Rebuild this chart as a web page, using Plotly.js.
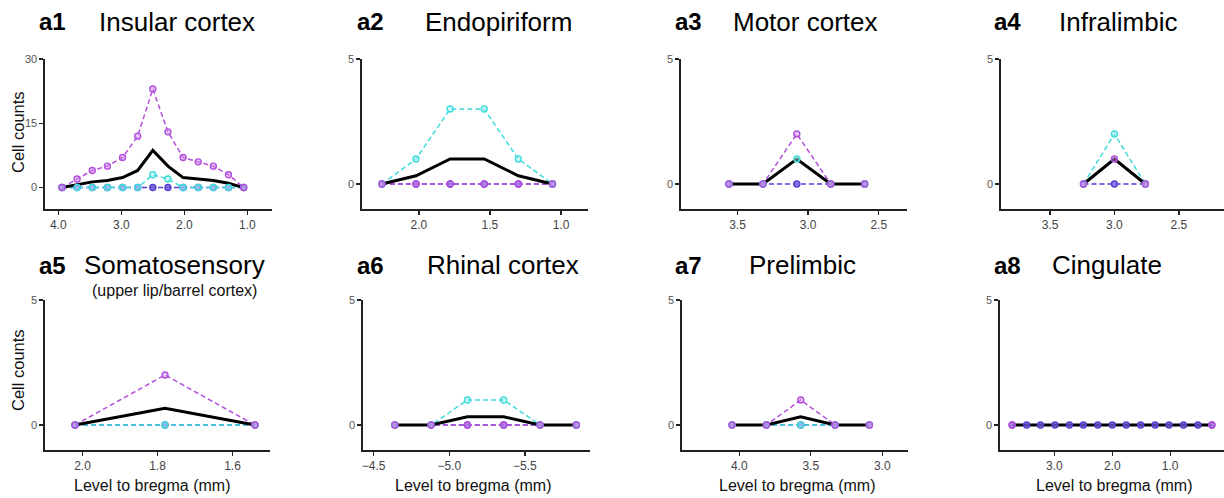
<!DOCTYPE html>
<html>
<head>
<meta charset="utf-8">
<script src="https://cdn.plot.ly/plotly-3.0.1.min.js"></script>
<style>html,body{margin:0;padding:0;background:#fff}#chart{width:1224px;height:498px}</style>
</head>
<body>
<div id="chart"></div>
<script>
// ---------- DATA ----------
const panelIds = ["a1","a2","a3","a4","a5","a6","a7","a8"];
const panelNames = ["Insular cortex","Endopiriform","Motor cortex","Infralimbic","Somatosensory","Rhinal cortex","Prelimbic","Cingulate"];
const a5Subtitle = "(upper lip/barrel cortex)";
const yTitle = "Cell counts";
const xTitle = "Level to bregma (mm)";

const a1_x = [3.94,3.70,3.46,3.22,2.98,2.74,2.50,2.26,2.02,1.78,1.54,1.30,1.06];
const a1_purple = [0,2,4,5,7,12,23,13,7,6,5,3,0];
const a1_cyan = [0,0,0,0,0,0,3,2,0,0,0,0,0];
const a1_blue = [0,0,0,0,0,0,0,0,0,0,0,0,0];
const a1_mean = [0,0.67,1.33,1.67,2.33,4,8.67,5,2.33,2,1.67,1,0];

const a2_x = [2.26,2.02,1.78,1.54,1.30,1.06];
const a2_purple = [0,0,0,0,0,0];
const a2_cyan = [0,1,3,3,1,0];
const a2_blue = [0,0,0,0,0,0];
const a2_mean = [0,0.33,1,1,0.33,0];

const a3_x = [3.56,3.32,3.08,2.84,2.60];
const a3_purple = [0,0,2,0,0];
const a3_cyan = [0,0,1,0,0];
const a3_blue = [0,0,0,0,0];
const a3_mean = [0,0,1,0,0];

const a4_x = [3.24,3.00,2.76];
const a4_purple = [0,1,0];
const a4_cyan = [0,2,0];
const a4_blue = [0,0,0];
const a4_mean = [0,1,0];

const a5_x = [2.02,1.78,1.54];
const a5_purple = [0,2,0];
const a5_cyan = [0,0,0];
const a5_blue = [0,0,0];
const a5_mean = [0,0.67,0];

const a6_x = [-4.64,-4.88,-5.12,-5.36,-5.60,-5.84];
const a6_purple = [0,0,0,0,0,0];
const a6_cyan = [0,0,1,1,0,0];
const a6_blue = [0,0,0,0,0,0];
const a6_mean = [0,0,0.33,0.33,0,0];

const a7_x = [4.05,3.81,3.57,3.33,3.09];
const a7_purple = [0,0,1,0,0];
const a7_cyan = [0,0,0,0,0];
const a7_blue = [0,0,0,0,0];
const a7_mean = [0,0,0.33,0,0];

const a8_x = [3.73,3.48,3.24,2.99,2.74,2.50,2.25,2.00,1.76,1.51,1.26,1.02,0.77,0.52,0.28];
const a8_purple = [0,null,null,null,null,null,null,null,null,null,null,null,null,null,0];
const a8_cyan = [null,null,null,null,null,null,null,null,null,null,null,null,null,null,null];
const a8_blue = [0,0,0,0,0,0,0,0,0,0,0,0,0,0,0];
const a8_mean = [0,0,0,0,0,0,0,0,0,0,0,0,0,0,0];

const a1_xticks = [4.0,3.0,2.0,1.0];
const a2_xticks = [2.0,1.5,1.0];
const a3_xticks = [3.5,3.0,2.5];
const a4_xticks = [3.5,3.0,2.5];
const a5_xticks = [2.0,1.8,1.6];
const a6_xticks = [-4.5,-5.0,-5.5];
const a7_xticks = [4.0,3.5,3.0];
const a8_xticks = [3.0,2.0,1.0];
const a1_yticks = [0,15,30];
const small_yticks = [0,5];

// ---------- STYLE / LAYOUT ----------
const W = 1224, H = 498;
const FONT = "Liberation Sans, Arial, Helvetica, sans-serif";
const PURPLE = "#b44fdc", CYAN = "#3fdcdc", BLUE = "#5a3cd0";
const FILL = {purple:"rgba(205,140,238,0.5)", cyan:"rgba(170,244,244,0.5)", blue:"rgba(110,90,220,0.75)"};

const panels = [
  {x:a1_x, p:a1_purple, c:a1_cyan, b:a1_blue, m:a1_mean, xt:a1_xticks, yt:a1_yticks, xr:[4.21,0.61], yr:[-5,30], px:[45,272], py:[59,209]},
  {x:a2_x, p:a2_purple, c:a2_cyan, b:a2_blue, m:a2_mean, xt:a2_xticks, yt:small_yticks, xr:[2.40,0.81], yr:[-1,5], px:[362,588], py:[59,209]},
  {x:a3_x, p:a3_purple, c:a3_cyan, b:a3_blue, m:a3_mean, xt:a3_xticks, yt:small_yticks, xr:[3.90,2.30], yr:[-1,5], px:[681,907], py:[59,209]},
  {x:a4_x, p:a4_purple, c:a4_cyan, b:a4_blue, m:a4_mean, xt:a4_xticks, yt:small_yticks, xr:[3.88,2.15], yr:[-1,5], px:[1001,1224], py:[59,209]},
  {x:a5_x, p:a5_purple, c:a5_cyan, b:a5_blue, m:a5_mean, xt:a5_xticks, yt:small_yticks, xr:[2.10,1.50], yr:[-1,5], px:[45,270], py:[300,450]},
  {x:a6_x, p:a6_purple, c:a6_cyan, b:a6_blue, m:a6_mean, xt:a6_xticks, yt:small_yticks, xr:[-4.43,-5.93], yr:[-1,5], px:[363,590], py:[300,450]},
  {x:a7_x, p:a7_purple, c:a7_cyan, b:a7_blue, m:a7_mean, xt:a7_xticks, yt:small_yticks, xr:[4.40,2.82], yr:[-1,5], px:[682,908], py:[300,450]},
  {x:a8_x, p:a8_purple, c:a8_cyan, b:a8_blue, m:a8_mean, xt:a8_xticks, yt:small_yticks, xr:[3.94,0.07], yr:[-1,5], px:[1000,1224], py:[300,450]}
];

const traces = [];
const layout = {
  width: W, height: H,
  margin: {l:0, r:0, t:0, b:0},
  paper_bgcolor: "#fff", plot_bgcolor: "rgba(0,0,0,0)",
  showlegend: false,
  font: {family: FONT, color: "#111"},
  annotations: []
};

panels.forEach((pn, i) => {
  const n = i + 1;
  const xa = "x" + (n === 1 ? "" : n), ya = "y" + (n === 1 ? "" : n);
  const base = {xaxis: xa, yaxis: ya, hoverinfo: "skip", cliponaxis: false};
  const dashLine = (y, col) => Object.assign({}, base, {x: pn.x, y: y, mode: "lines",
    line: {color: col, width: 1.5, dash: "5px,3px"}});
  const marks = (y, col, fill) => Object.assign({}, base, {x: pn.x, y: y, mode: "markers",
    marker: {symbol: "circle", size: 6, color: fill, line: {color: col, width: 1.4}}});
  traces.push(dashLine(pn.b, BLUE), dashLine(pn.c, CYAN), dashLine(pn.p, PURPLE));
  traces.push(Object.assign({}, base, {x: pn.x, y: pn.m, mode: "lines", line: {color: "#000", width: 3}}));
  traces.push(marks(pn.b, BLUE, FILL.blue), marks(pn.c, CYAN, FILL.cyan), marks(pn.p, PURPLE, FILL.purple));

  const axCommon = {showgrid: false, zeroline: false, showline: true, linecolor: "#222", linewidth: 1.6,
    ticks: "outside", ticklen: 4, tickwidth: 1.3, tickcolor: "#222", fixedrange: true};
  layout["xaxis" + (n === 1 ? "" : n)] = Object.assign({}, axCommon, {
    domain: [pn.px[0] / W, pn.px[1] / W], range: pn.xr, anchor: ya,
    tickfont: {family: FONT, size: 12, color: "#444"},
    tickmode: "array", tickvals: pn.xt, ticktext: pn.xt.map(v => (v < 0 ? "\u2212" : "") + Math.abs(v).toFixed(1))
  });
  layout["yaxis" + (n === 1 ? "" : n)] = Object.assign({}, axCommon, {
    domain: [1 - pn.py[1] / H, 1 - pn.py[0] / H], range: pn.yr, anchor: xa,
    tickfont: {family: FONT, size: 11, color: "#555"},
    tickmode: "array", tickvals: pn.yt, ticktext: pn.yt.map(String)
  });
});

// titles
const idLeft = [37, 355, 673, 992, 37, 355, 673, 992];
const nameLeft = [97, 423, 731, 1057, 82, 425, 747, 1050];
const titleY = [22, 22, 22, 22, 265, 265, 265, 265];
panelIds.forEach((id, i) => {
  layout.annotations.push({xref: "paper", yref: "paper", x: idLeft[i] / W, y: 1 - titleY[i] / H,
    xanchor: "left", yanchor: "middle", showarrow: false, text: "<b>" + id + "</b>",
    font: {family: FONT, size: 24, color: "#000"}});
  layout.annotations.push({xref: "paper", yref: "paper", x: nameLeft[i] / W, y: 1 - titleY[i] / H,
    xanchor: "left", yanchor: "middle", showarrow: false, text: panelNames[i],
    font: {family: FONT, size: 26, color: "#000"}});
});
layout.annotations.push({xref: "paper", yref: "paper", x: 90 / W, y: 1 - 290 / H,
  xanchor: "left", yanchor: "middle", showarrow: false, text: a5Subtitle,
  font: {family: FONT, size: 16, color: "#111"}});

// axis titles
[[18, 132], [18, 370]].forEach(p => layout.annotations.push({xref: "paper", yref: "paper",
  x: p[0] / W, y: 1 - p[1] / H, xanchor: "center", yanchor: "middle", textangle: -90, showarrow: false,
  text: yTitle, font: {family: FONT, size: 16.5, color: "#111"}}));
[152, 473, 797, 1114].forEach(cx => layout.annotations.push({xref: "paper", yref: "paper",
  x: cx / W, y: 1 - 485 / H, xanchor: "center", yanchor: "middle", showarrow: false,
  text: xTitle, font: {family: FONT, size: 16, color: "#111"}}));

Plotly.newPlot("chart", traces, layout, {staticPlot: true, displayModeBar: false});
</script>
</body>
</html>
